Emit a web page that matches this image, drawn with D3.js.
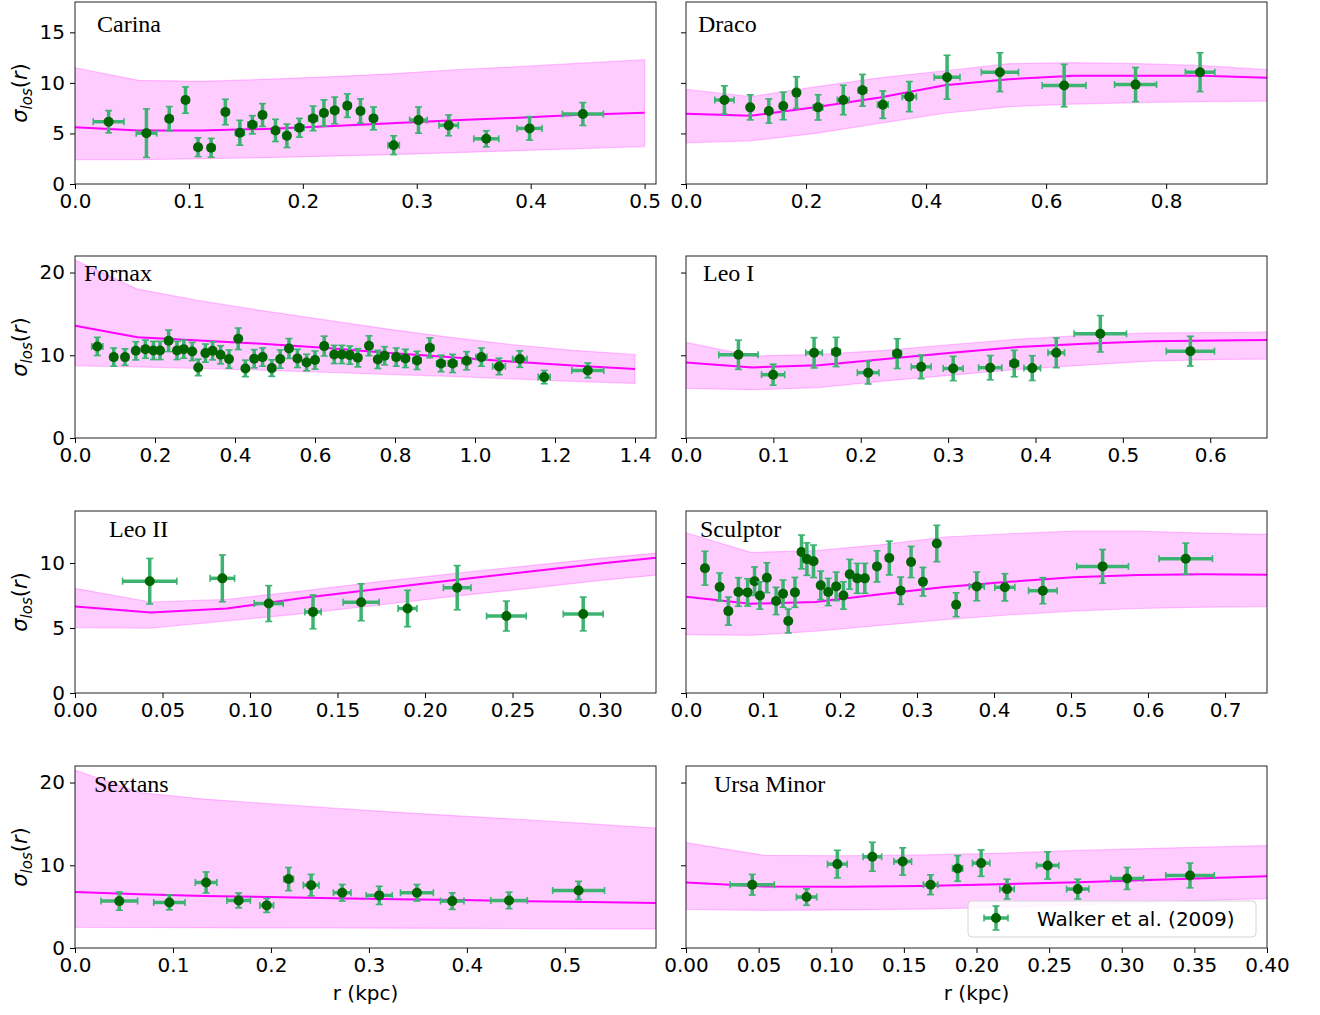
<!DOCTYPE html>
<html>
<head>
<meta charset="utf-8">
<script src="https://cdn.jsdelivr.net/npm/d3@7"></script>
<style>
  body { margin: 0; background: #fff; }
  text { font-family: "DejaVu Sans", sans-serif; }
</style>
</head>
<body>
<script>
// points: [r, r error, sigma, sigma error]   model: [r, lower, median, upper]
var carinaPts = [
  [0.0295,0.0135,6.16,1.1],[0.0627,0.009,5.03,2.4],[0.0827,0.003,6.46,1.2],[0.097,0.003,8.3,1.3],
  [0.108,0.003,3.64,0.93],[0.1195,0.003,3.58,0.93],[0.132,0.003,7.12,1.26],[0.1447,0.004,5.07,1.23],
  [0.1557,0.004,5.86,0.9],[0.1646,0.003,6.82,1.13],[0.176,0.003,5.3,1.1],[0.186,0.003,4.77,1.16],
  [0.197,0.004,5.56,0.93],[0.209,0.004,6.49,1.22],[0.2185,0.003,7.02,1.3],[0.228,0.003,7.28,1.32],
  [0.239,0.003,7.75,1.16],[0.2506,0.003,7.22,1.2],[0.262,0.003,6.49,1.13],[0.2797,0.005,3.84,0.93],
  [0.3015,0.0077,6.32,1.3],[0.328,0.0085,5.8,1.03],[0.361,0.011,4.47,0.8],[0.399,0.011,5.5,1.16],
  [0.4458,0.018,6.92,1.13]
];
var carinaModel = [
  [0,2.4,5.62,11.5],[0.0556,2.4,5.3,10.25],[0.111,2.5,5.3,10.15],[0.1667,2.6,5.45,10.35],
  [0.222,2.75,5.7,10.6],[0.278,2.9,6.0,10.9],[0.333,3.1,6.3,11.3],[0.389,3.3,6.55,11.6],
  [0.444,3.5,6.85,11.95],[0.5,3.7,7.05,12.3]
];

var dracoPts = [
  [0.064,0.016,8.31,1.4],[0.107,0.004,7.58,1.24],[0.138,0.004,7.22,1.2],[0.162,0.004,7.72,1.36],
  [0.184,0.003,9.04,1.57],[0.22,0.008,7.58,1.25],[0.262,0.01,8.31,1.46],[0.294,0.007,9.27,1.57],
  [0.328,0.009,7.85,1.36],[0.372,0.012,8.64,1.49],[0.435,0.0215,10.56,2.17],[0.523,0.031,11.06,1.92],
  [0.63,0.0365,9.74,2.1],[0.749,0.035,9.83,1.69],[0.8565,0.0246,11.06,1.92]
];
var dracoModel = [
  [0,4.07,6.95,9.37],[0.1077,4.27,6.75,8.64],[0.215,5.0,7.6,9.6],[0.323,6.0,8.55,10.5],
  [0.431,7.0,9.77,11.2],[0.538,7.65,10.36,11.9],[0.646,7.9,10.7,12.0],[0.754,8.05,10.7,11.9],
  [0.862,8.15,10.7,11.7],[0.969,8.2,10.5,11.3]
];

var fornaxPts = [
  [0.0558,0.014,11.07,1.1],[0.0968,0.008,9.78,1.1],[0.125,0.007,9.78,1.0],[0.152,0.007,10.54,1.1],
  [0.176,0.007,10.74,1.1],[0.196,0.006,10.58,1.1],[0.2126,0.006,10.58,1.1],[0.234,0.006,11.75,1.3],
  [0.255,0.006,10.58,1.1],[0.272,0.006,10.74,1.1],[0.293,0.006,10.46,1.1],[0.308,0.006,8.53,1.0],
  [0.326,0.006,10.26,1.1],[0.344,0.006,10.54,1.1],[0.364,0.006,10.06,1.1],[0.385,0.007,9.54,1.1],
  [0.408,0.007,11.99,1.3],[0.426,0.007,8.41,1.0],[0.448,0.007,9.58,1.1],[0.469,0.007,9.78,1.1],
  [0.492,0.007,8.45,1.0],[0.513,0.008,9.54,1.1],[0.535,0.008,10.82,1.2],[0.556,0.008,9.62,1.1],
  [0.579,0.008,9.13,1.0],[0.6,0.008,9.42,1.1],[0.623,0.008,11.11,1.2],[0.648,0.008,10.1,1.1],
  [0.667,0.008,10.1,1.1],[0.687,0.008,10.02,1.1],[0.707,0.008,9.7,1.1],[0.735,0.008,11.15,1.2],
  [0.757,0.008,9.5,1.1],[0.774,0.008,9.94,1.1],[0.803,0.009,9.78,1.1],[0.826,0.009,9.62,1.1],
  [0.855,0.01,9.38,1.1],[0.887,0.01,10.9,1.2],[0.915,0.011,9.01,1.0],[0.944,0.011,9.01,1.1],
  [0.979,0.012,9.34,1.1],[1.016,0.014,9.78,1.1],[1.06,0.016,8.65,1.0],[1.112,0.018,9.54,1.0],
  [1.173,0.015,7.36,0.8],[1.282,0.04,8.17,0.9]
];
var fornaxModel = [
  [0,8.73,13.56,21.5],[0.156,8.6,12.19,18.0],[0.311,8.4,11.8,16.6],[0.467,8.2,11.4,15.4],
  [0.622,7.95,10.9,14.3],[0.778,7.7,10.3,13.2],[0.933,7.45,9.8,12.2],[1.089,7.15,9.25,11.3],
  [1.244,6.85,8.75,10.6],[1.4,6.6,8.35,10.1]
];

var leoIPts = [
  [0.0600,0.0225,10.06,1.77],[0.0997,0.0133,7.65,1.27],[0.1466,0.0095,10.3,1.83],[0.1718,0.005,10.4,1.77],
  [0.2085,0.0124,7.9,1.37],[0.2417,0.005,10.2,1.8],[0.2692,0.0114,8.6,1.43],[0.3058,0.0114,8.4,1.47],
  [0.3482,0.0133,8.5,1.47],[0.3757,0.005,9.0,1.6],[0.3963,0.0095,8.45,1.5],[0.4238,0.0095,10.3,1.8],
  [0.4742,0.030,12.6,2.2],[0.5773,0.0276,10.5,1.8]
];
var leoIModel = [
  [0,6.0,9.13,11.55],[0.076,5.84,8.53,9.9],[0.152,6.1,8.8,10.1],[0.228,6.9,9.55,10.6],
  [0.304,7.6,10.3,11.3],[0.38,8.3,11.0,11.95],[0.456,8.8,11.4,12.4],[0.532,9.3,11.7,12.7],
  [0.608,9.5,11.8,12.75],[0.684,9.55,11.85,12.8]
];

var leoIIPts = [
  [0.0427,0.0155,8.6,1.75],[0.0842,0.007,8.82,1.8],[0.1107,0.0083,6.88,1.38],[0.136,0.0047,6.24,1.3],
  [0.1635,0.0103,6.98,1.42],[0.19,0.0054,6.5,1.4],[0.2184,0.0079,8.1,1.7],[0.2465,0.0113,5.92,1.15],
  [0.2904,0.0114,6.08,1.3]
];
var leoIIModel = [
  [0,5.03,6.65,8.05],[0.0433,4.98,6.2,7.0],[0.0867,5.55,6.5,7.2],[0.13,6.1,7.3,7.85],
  [0.173,6.75,8.0,8.55],[0.217,7.45,8.7,9.2],[0.26,8.05,9.35,9.8],[0.303,8.7,10.0,10.4],
  [0.347,9.25,10.6,10.95]
];

var sculptorPts = [
  [0.0246,0.004,9.6,1.3],[0.0437,0.004,8.15,1.08],[0.055,0.004,6.3,1.08],[0.068,0.004,7.77,1.1],
  [0.08,0.004,7.74,1.05],[0.089,0.004,8.6,1.1],[0.096,0.004,7.5,1.05],[0.105,0.004,8.87,1.15],
  [0.117,0.004,7.08,1.05],[0.126,0.004,7.64,1.05],[0.1328,0.004,5.54,0.92],[0.1415,0.004,7.74,1.15],
  [0.15,0.004,10.85,1.3],[0.157,0.004,10.3,1.25],[0.1656,0.004,10.13,1.25],[0.175,0.004,8.28,1.1],
  [0.1847,0.004,7.77,1.05],[0.195,0.004,8.2,1.1],[0.2044,0.004,7.5,1.05],[0.2126,0.004,9.13,1.15],
  [0.2224,0.004,8.82,1.15],[0.2322,0.004,8.82,1.15],[0.248,0.004,9.74,1.2],[0.264,0.004,10.38,1.3],
  [0.2787,0.004,7.87,1.05],[0.2923,0.004,10.08,1.2],[0.3077,0.004,8.56,1.1],[0.3257,0.004,11.5,1.4],
  [0.3508,0.004,6.79,0.92],[0.3776,0.0098,8.2,1.1],[0.414,0.013,8.13,1.05],[0.4634,0.0186,7.87,1.0],
  [0.541,0.0336,9.74,1.3],[0.649,0.0347,10.33,1.2]
];
var sculptorModel = [
  [0,4.49,7.41,12.33],[0.0839,4.44,6.87,10.82],[0.168,4.75,7.0,10.95],[0.252,5.2,7.6,11.4],
  [0.336,5.65,8.15,12.0],[0.419,6.0,8.55,12.25],[0.503,6.3,8.9,12.45],[0.587,6.5,9.07,12.45],
  [0.671,6.6,9.13,12.3],[0.755,6.65,9.1,12.2]
];

var sextansPts = [
  [0.0452,0.0187,5.67,1.1],[0.0963,0.016,5.51,0.9],[0.1338,0.011,7.92,1.27],[0.167,0.012,5.75,0.9],
  [0.1957,0.007,5.15,0.85],[0.218,0.005,8.33,1.4],[0.241,0.008,7.6,1.3],[0.2727,0.009,6.68,1.0],
  [0.3105,0.0133,6.36,1.1],[0.349,0.0168,6.68,1.0],[0.385,0.012,5.67,1.0],[0.443,0.0187,5.75,1.0],
  [0.514,0.0265,6.96,1.1]
];
var sextansModel = [
  [0,2.5,6.76,21.5],[0.0659,2.48,6.5,18.8],[0.132,2.46,6.3,18.0],[0.198,2.44,6.15,17.45],
  [0.264,2.42,6.0,16.9],[0.33,2.4,5.9,16.4],[0.395,2.38,5.8,15.95],[0.461,2.35,5.65,15.5],
  [0.527,2.32,5.55,15.0],[0.593,2.3,5.43,14.5]
];

var ursaPts = [
  [0.0456,0.0152,7.65,1.25],[0.083,0.007,6.16,1.0],[0.1042,0.0068,10.14,1.67],[0.1283,0.0064,11.03,1.75],
  [0.1492,0.0061,10.46,1.65],[0.1684,0.005,7.65,1.2],[0.187,0.0035,9.62,1.55],[0.2032,0.006,10.26,1.6],
  [0.221,0.005,7.12,1.2],[0.249,0.0077,9.98,1.65],[0.2697,0.0077,7.12,1.2],[0.3037,0.0113,8.41,1.33],
  [0.347,0.0167,8.77,1.5]
];
var ursaModel = [
  [0,4.67,7.93,12.75],[0.054,4.55,7.44,11.2],[0.108,4.6,7.4,11.15],[0.162,4.7,7.5,11.25],
  [0.216,4.9,7.7,11.45],[0.27,5.25,7.95,11.8],[0.324,5.55,8.25,12.05],[0.378,5.85,8.55,12.3],
  [0.432,6.15,8.85,12.5],[0.486,6.4,9.1,12.6]
];

var galaxyNames = ["Carina", "Draco", "Fornax", "Leo I", "Leo II", "Sculptor", "Sextans", "Ursa Minor"];
var xLimits = [0.51, 0.968, 1.4525, 0.665, 0.332, 0.7545, 0.593, 0.40];
var yLimits = [18, 22, 14, 22];          // one per row, shared across the row
var xTickSets = [
  [0,0.1,0.2,0.3,0.4,0.5], [0,0.2,0.4,0.6,0.8], [0,0.2,0.4,0.6,0.8,1.0,1.2,1.4], [0,0.1,0.2,0.3,0.4,0.5,0.6],
  [0,0.05,0.1,0.15,0.2,0.25,0.3], [0,0.1,0.2,0.3,0.4,0.5,0.6,0.7], [0,0.1,0.2,0.3,0.4,0.5],
  [0,0.05,0.1,0.15,0.2,0.25,0.3,0.35,0.4]
];
var yTickSets = [[0,5,10,15], [0,10,20], [0,5,10], [0,10,20]];
var legendLabel = "Walker et al. (2009)";

var allPts = [carinaPts, dracoPts, fornaxPts, leoIPts, leoIIPts, sculptorPts, sextansPts, ursaPts];
var allModels = [carinaModel, dracoModel, fornaxModel, leoIModel, leoIIModel, sculptorModel, sextansModel, ursaModel];

// layout
var colX = [75, 686], rowY = [2, 256, 511, 766], pw = 581, ph = 182;
var titlePos = [[22,30],[12,30],[9,25],[17,25],[34,26],[14,26],[19,26],[28,26]];
var xFormats = [".1f",".1f",".1f",".1f",".2f",".1f",".1f",".2f"];

var svg = d3.select("body").append("svg")
  .attr("width", 1320).attr("height", 1015);

var ecolor = "#3cb371", mcolor = "#006400";

galaxyNames.forEach(function(name, i) {
  var col = i % 2, row = Math.floor(i / 2);
  var x0 = colX[col], y0 = rowY[row];
  var x = d3.scaleLinear().domain([0, xLimits[i]]).range([0, pw]);
  var y = d3.scaleLinear().domain([0, yLimits[row]]).range([ph, 0]);
  var g = svg.append("g").attr("transform", "translate(" + x0 + "," + y0 + ")");

  svg.append("clipPath").attr("id", "clip" + i)
    .append("rect").attr("width", pw).attr("height", ph);
  var plot = g.append("g").attr("clip-path", "url(#clip" + i + ")");

  var model = allModels[i];
  plot.append("path")
    .datum(model)
    .attr("d", d3.area().x(d => x(d[0])).y0(d => y(d[1])).y1(d => y(d[3])))
    .attr("fill", "#ffccff")
    .attr("stroke", "#ff00ff").attr("stroke-opacity", 0.22).attr("stroke-width", 1.2);
  plot.append("path")
    .datum(model)
    .attr("d", d3.line().x(d => x(d[0])).y(d => y(d[2])))
    .attr("fill", "none").attr("stroke", "#ff00ff").attr("stroke-width", 2);

  var pts = plot.selectAll("g.pt").data(allPts[i]).enter().append("g").attr("class", "pt");
  pts.append("line")
    .attr("x1", d => x(d[0] - d[1])).attr("x2", d => x(d[0] + d[1]))
    .attr("y1", d => y(d[2])).attr("y2", d => y(d[2]))
    .attr("stroke", ecolor).attr("stroke-width", 3.5);
  pts.append("line")
    .attr("x1", d => x(d[0])).attr("x2", d => x(d[0]))
    .attr("y1", d => y(d[2] - d[3])).attr("y2", d => y(d[2] + d[3]))
    .attr("stroke", ecolor).attr("stroke-width", 3.5);
  // caps
  [-1, 1].forEach(function(s) {
    pts.append("line")
      .attr("x1", d => x(d[0]) - 3.5).attr("x2", d => x(d[0]) + 3.5)
      .attr("y1", d => y(d[2] + s * d[3])).attr("y2", d => y(d[2] + s * d[3]))
      .attr("stroke", ecolor).attr("stroke-width", 1.6);
    pts.append("line")
      .attr("x1", d => x(d[0] + s * d[1])).attr("x2", d => x(d[0] + s * d[1]))
      .attr("y1", d => y(d[2]) - 3.5).attr("y2", d => y(d[2]) + 3.5)
      .attr("stroke", ecolor).attr("stroke-width", 1.6);
  });
  pts.append("circle")
    .attr("cx", d => x(d[0])).attr("cy", d => y(d[2])).attr("r", 5)
    .attr("fill", mcolor);

  // axes
  var xa = g.append("g").attr("transform", "translate(0," + ph + ")")
    .call(d3.axisBottom(x).tickValues(xTickSets[i]).tickFormat(d3.format(xFormats[i])).tickSizeOuter(0).tickSize(5).tickPadding(5));
  var ya = g.append("g")
    .call(d3.axisLeft(y).tickValues(yTickSets[row]).tickSizeOuter(0).tickSize(5).tickPadding(5));
  if (col === 1) ya.selectAll("text").remove();
  [xa, ya].forEach(function(a) {
    a.select(".domain").remove();
    a.selectAll("text").attr("font-size", 20).attr("fill", "#000")
      .attr("font-family", "DejaVu Sans");
    a.selectAll("line").attr("stroke", "#000");
  });
  g.append("rect").attr("width", pw).attr("height", ph)
    .attr("fill", "none").attr("stroke", "#222").attr("stroke-width", 1);

  // galaxy name
  g.append("text").attr("x", titlePos[i][0]).attr("y", titlePos[i][1])
    .style("font-family", "Liberation Serif, serif")
    .attr("font-size", 24).text(name);

  // y label
  if (col === 0) {
    var yl = svg.append("text")
      .attr("transform", "translate(27," + (y0 + ph / 2) + ") rotate(-90)")
      .attr("text-anchor", "middle").attr("font-size", 21);
    yl.append("tspan").attr("font-style", "italic").text("σ");
    yl.append("tspan").attr("font-style", "italic").attr("font-size", 15).attr("dy", 5).text("los");
    yl.append("tspan").attr("dy", -5).text("(");
    yl.append("tspan").attr("font-style", "italic").text("r");
    yl.append("tspan").text(")");
  }
  if (row === 3) {
    svg.append("text").attr("x", x0 + pw / 2).attr("y", 1000)
      .attr("text-anchor", "middle").attr("font-size", 20).text("r (kpc)");
  }
});

// legend in the Ursa Minor panel
var lg = svg.append("g").attr("transform", "translate(968,901)");
lg.append("rect").attr("width", 288).attr("height", 36).attr("rx", 4)
  .attr("fill", "#fff").attr("fill-opacity", 0.85).attr("stroke", "#d6d6d6");
lg.append("line").attr("x1", 16).attr("x2", 40).attr("y1", 17).attr("y2", 17)
  .attr("stroke", ecolor).attr("stroke-width", 3.5);
lg.append("line").attr("x1", 28).attr("x2", 28).attr("y1", 5).attr("y2", 29)
  .attr("stroke", ecolor).attr("stroke-width", 3.5);
[16, 40].forEach(function(px) {
  lg.append("line").attr("x1", px).attr("x2", px).attr("y1", 13.5).attr("y2", 20.5)
    .attr("stroke", ecolor).attr("stroke-width", 1.6);
});
[5, 29].forEach(function(py) {
  lg.append("line").attr("x1", 24.5).attr("x2", 31.5).attr("y1", py).attr("y2", py)
    .attr("stroke", ecolor).attr("stroke-width", 1.6);
});
lg.append("circle").attr("cx", 28).attr("cy", 17).attr("r", 5).attr("fill", mcolor);
lg.append("text").attr("x", 69).attr("y", 25).attr("font-size", 20).text(legendLabel);
</script>
</body>
</html>
